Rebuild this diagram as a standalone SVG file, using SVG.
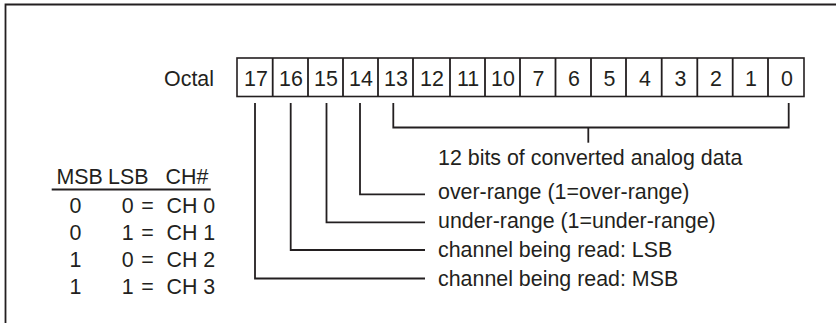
<svg xmlns="http://www.w3.org/2000/svg" width="836" height="323" viewBox="0 0 836 323">
<style>
text{font-family:"Liberation Sans",Arial,sans-serif;font-size:21.4px;fill:#231f20}
.c{text-anchor:middle}
.e{text-anchor:end}
.ln{stroke:#231f20;stroke-width:1.8;fill:none}
.cell{stroke:#231f20;stroke-width:1.6;fill:#fff}
</style>
<rect width="836" height="323" fill="#fff"/>
<g id="frame"><path class="ln" d="M5.5,323 V4.5 H836"/></g>
<g id="register">
<text class="e" x="214" y="86">Octal</text>
<rect class="cell" x="237" y="58" width="567" height="38.5"/>
<path class="ln" stroke-width="1.4" d="M272.7,58V96.5M308,58V96.5M343,58V96.5M378,58V96.5M413,58V96.5M450,58V96.5M485,58V96.5M520,58V96.5M555.5,58V96.5M591,58V96.5M626,58V96.5M661.7,58V96.5M697.3,58V96.5M732.7,58V96.5M768,58V96.5"/>
<g class="c">
<text x="256" y="86">17</text>
<text x="291" y="86">16</text>
<text x="326" y="86">15</text>
<text x="361" y="86">14</text>
<text x="396" y="86">13</text>
<text x="432" y="86">12</text>
<text x="468" y="86">11</text>
<text x="503" y="86">10</text>
<text x="538.5" y="86">7</text>
<text x="574" y="86">6</text>
<text x="609.5" y="86">5</text>
<text x="645" y="86">4</text>
<text x="680.5" y="86">3</text>
<text x="716" y="86">2</text>
<text x="751" y="86">1</text>
<text x="787" y="86">0</text>
</g>
</g>
<g id="connectors">
<path class="ln" d="M255,103V278.5H425"/>
<path class="ln" d="M290.7,103V250H425"/>
<path class="ln" d="M326.5,103V222.3H425"/>
<path class="ln" d="M360,103V194.3H425"/>
<path class="ln" d="M393.3,103V127.5H788.7V103"/>
<path class="ln" d="M588.3,127.5V142.7"/>
</g>
<g id="labels">
<text x="438" y="165">12 bits of converted analog data</text>
<text x="438" y="199">over-range (1=over-range)</text>
<text x="438" y="228">under-range (1=under-range)</text>
<text x="438" y="257">channel being read: LSB</text>
<text x="438" y="286">channel being read: MSB</text>
</g>
<g id="table">
<text x="56.5" y="184">MSB</text>
<text x="108" y="184">LSB</text>
<text x="165.5" y="184">CH#</text>
<path class="ln" d="M51.7,189.5H210.7"/>
<g class="c">
<text x="75.5" y="213">0</text><text x="127.7" y="213">0</text><text x="147.5" y="213">=</text>
<text x="75.5" y="240">0</text><text x="127.7" y="240">1</text><text x="147.5" y="240">=</text>
<text x="75.5" y="267">1</text><text x="127.7" y="267">0</text><text x="147.5" y="267">=</text>
<text x="75.5" y="293.5">1</text><text x="127.7" y="293.5">1</text><text x="147.5" y="293.5">=</text>
</g>
<text x="166.5" y="213">CH 0</text>
<text x="166.5" y="240">CH 1</text>
<text x="166.5" y="267">CH 2</text>
<text x="166.5" y="293.5">CH 3</text>
</g>
</svg>
